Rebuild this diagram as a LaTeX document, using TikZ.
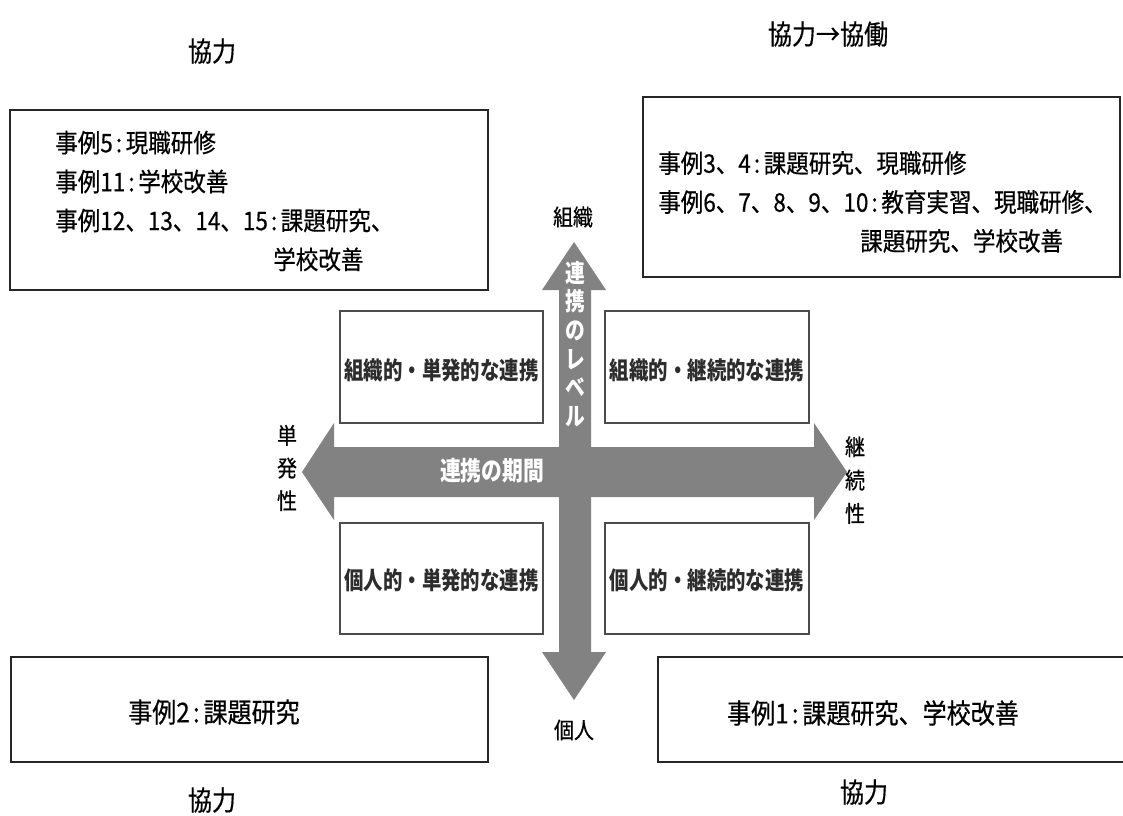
\documentclass[tikz,border=0pt]{standalone}
\usepackage{fontspec}
\setmainfont{Noto Sans CJK JP}[FakeStretch=0.88, FakeBold=0.5]
\newfontfamily\condfont{Noto Sans CJK JP}[FakeStretch=0.8]
\newcommand\mycolon{\hspace{0.12em}:\hspace{0.14em}}
\usetikzlibrary{fit}
\definecolor{arrowgray}{RGB}{130,130,130}
\definecolor{qtext}{RGB}{45,45,45}
\begin{document}
\begin{tikzpicture}[x=0.75pt,y=-0.75pt,
  bigbox/.style={draw=black!85, line width=1.3pt, inner sep=0pt},
  qbox/.style={draw=black!70, line width=1pt, inner sep=0pt},
  casetext/.style={inner sep=0pt, align=left, font=\fontsize{19.2}{29.2}\selectfont},
  singletext/.style={inner sep=0pt, font=\fontsize{20.5}{24}\selectfont},
  coop/.style={inner sep=0pt, font=\fontsize{20.5}{24}\selectfont},
  qlabel/.style={inner sep=0pt, text=qtext, font=\condfont\bfseries\fontsize{18.2}{22}\selectfont},
  axislabel/.style={inner sep=0pt, font=\fontsize{17}{20}\selectfont},
  sidelabel/.style={inner sep=0pt, align=center, font=\fontsize{17}{24.5}\selectfont},
  arrowtext/.style={inner sep=0pt, text=white, font=\condfont\bfseries\fontsize{19.5}{22}\selectfont}
]
\useasboundingbox (0,0) rectangle (1123,815);

% axis arrows
\fill[arrowgray] (574,242) -- (606,290) -- (591,290) -- (591,652) -- (606,652)
  -- (574,700) -- (542,652) -- (559,652) -- (559,290) -- (542,290) -- cycle;
\fill[arrowgray] (302,472) -- (334,423) -- (334,447) -- (814,447) -- (814,423)
  -- (847,472) -- (814,520) -- (814,497) -- (334,497) -- (334,520) -- cycle;

\node[arrowtext, align=center, font=\condfont\bfseries\fontsize{18.5}{21.5}\selectfont] (vlab) at (575,344)
  {連\\携\\の\\レ\\ベ\\ル};
\node[arrowtext] (hlab) at (492,471) {連携の期間};

% axis end labels
\node[axislabel] (top) at (573,217) {組織};
\node[axislabel] (bottom) at (574,730) {個人};
\node[sidelabel] (left) at (287,468) {単\\発\\性};
\node[sidelabel, font=\fontsize{17}{25}\selectfont] (right) at (855,480) {継\\続\\性};

% quadrant boxes
\node[qbox, fit={(340,311)(543,423)}] (ul) {};
\node[qbox, fit={(605,311)(809,423)}] (ur) {};
\node[qbox, fit={(340,523)(543,634)}] (ll) {};
\node[qbox, fit={(605,523)(809,634)}] (lr) {};
\node[qlabel] (ult) at ([yshift=-2.5]ul.center) {組織的・単発的な連携};
\node[qlabel] (urt) at ([yshift=-2.5]ur.center) {組織的・継続的な連携};
\node[qlabel] (llt) at ([yshift=-1.5]ll.center) {個人的・単発的な連携};
\node[qlabel] (lrt) at ([yshift=-1.5]lr.center) {個人的・継続的な連携};

% case boxes
\node[bigbox, fit={(10,110)(488,290)}] (tl) {};
\node[bigbox, fit={(643,97)(1120,277)}] (tr) {};
\node[bigbox, fit={(11,657)(488,762)}] (bl) {};
\node[bigbox, fit={(658,657)(1140,762)}] (br) {};

\node[casetext, anchor=west] (tlt) at (55,201)
  {事例5\mycolon 現職研修\\
   事例11\mycolon 学校改善\\
   事例12、13、14、15\mycolon 課題研究、\\
   \hspace{218\dimexpr0.75pt\relax}学校改善};
\node[casetext, anchor=west] (trt) at (658,202)
  {事例3、4\mycolon 課題研究、現職研修\\
   事例6、7、8、9、10\mycolon 教育実習、現職研修、\\
   \hspace{202\dimexpr0.75pt\relax}課題研究、学校改善};
\node[singletext] (blt) at (214,712) {事例2\mycolon 課題研究};
\node[singletext] (brt) at (873,713) {事例1\mycolon 課題研究、学校改善};

% cooperation labels
\node[coop] (c1) at (212,51) {協力};
\node[coop] (c2) at (828,34) {協力→協働};
\node[coop] (c3) at (212,800) {協力};
\node[coop] (c4) at (864,792) {協力};
\end{tikzpicture}
\end{document}
